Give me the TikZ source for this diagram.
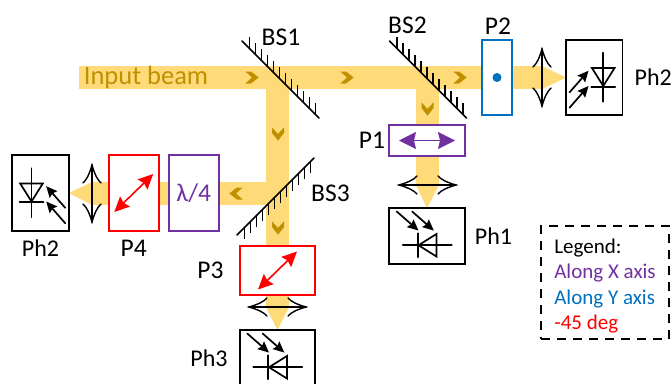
\documentclass[tikz,border=0pt]{standalone}
\usepackage{fontspec}
\setmainfont{Carlito}
\usetikzlibrary{arrows.meta}
\usetikzlibrary{positioning}
\usetikzlibrary{backgrounds}
\definecolor{beamcol}{RGB}{255,218,120}
\definecolor{chevcol}{RGB}{191,144,0}
\definecolor{alongx}{RGB}{112,48,160}
\definecolor{alongy}{RGB}{0,112,192}
\definecolor{minus45}{RGB}{255,0,0}
\tikzset {
  beam/.style = {
    draw = beamcol,
    line width = 23pt
  },
  % cone behind a lens
  taper/.style = {
    fill = beamcol
  },
  optic/.style = {
    line width = 1.7pt,
    line cap = round
  },
  labeltext/.style = {
    font = \fontsize{25.5}{28}\selectfont,
    inner sep = 0
  },
  phtext/.style = {
    labeltext,
    font = \fontsize{24}{28}\selectfont
  }
}
\tikzset {
  box/.style = {
    draw = #1,
    fill = white,
    line width = 1.7pt,
    rectangle,
    inner sep = 0,
    outer sep = 0
  },
  tallpol/.style = {
    box = #1,
    minimum width = 50pt,
    minimum height = 76pt
  },
  widepol/.style = {
    box = #1,
    minimum width = 75.5pt,
    minimum height = 49.5pt
  },
  tallph/.style = {
    box = black,
    minimum width = 56.5pt,
    minimum height = 75.5pt
  },
  wideph/.style = {
    box = black,
    minimum width = 75.5pt,
    minimum height = 56pt
  },
  legendbox/.style = {
    draw = black,
    line width = 1.7pt,
    dash pattern = on 9pt off 7pt,
    minimum width = 128pt,
    minimum height = 113pt,
    align = left,
    inner sep = 0,
    font = \fontsize{21}{25.5}\selectfont
  },
  pics/mirror/.style = {
    code = {
      \draw[optic] (0,0) -- (77,77);
      \foreach \t in {0,...,11} {
        \draw[line width = 1.6pt] ({7.3+6*\t},{7.3+6*\t}) -- ++(0,-11.5);
      }
    }
  },
  pics/lens/.style = {
    code = {
      \draw[optic] (0,-28.5) -- (0,28.5);
      \draw[optic, line width = 1.4pt] (-9,-10.5) .. controls (-5,-14) and (-2.5,-20) .. (0,-28.5)
        .. controls (2.5,-20) and (5,-14) .. (9,-10.5);
      \draw[optic, line width = 1.4pt] (-9,10.5) .. controls (-5,14) and (-2.5,20) .. (0,28.5)
        .. controls (2.5,20) and (5,14) .. (9,10.5);
    }
  },
  pics/photodiode/.style = {
    code = {
      \draw[optic] (9,-24.8) -- (9,24.2);
      \draw[optic] (-2.3,-9.5) -- (20.3,-9.5) -- (9,8.5) -- cycle;
      \draw[optic] (-3,9.2) -- (21,9.2);
      \draw[optic, -{Stealth[length=11pt,width=10pt,inset=1.5pt]}] (-24.7,14.8) -- (-5.7,-6.8);
      \draw[optic, -{Stealth[length=11pt,width=10pt,inset=1.5pt]}] (-24.7,30.2) -- (-5.7,8.5);
    }
  },
  pics/chevron/.style = {
    code = {
      \fill[chevcol] (-6.7,-6) -- (-1,-6) -- (6.7,0) -- (-1,6) -- (-6.7,6) -- (0,0) -- cycle;
    }
  },
  pics/diagarrow/.style = {
    code = {
      \draw[minus45, line width = 1.6pt,
        {Stealth[length=15pt,width=14pt,inset=2pt]}-{Stealth[length=15pt,width=14pt,inset=2pt]}]
        (-19.5,19) -- (19.5,-19);
    }
  }
}

\begin{document}
\begin{tikzpicture}[x = 1pt, y = -1pt]
    \useasboundingbox (0,0) rectangle (672,383);

    \coordinate (start) at (79,77.5);
    \coordinate (BS1c) at (277.5,77.5);
    \coordinate (BS2c) at (427.5,77.5);
    \coordinate (BS3c) at (277.5,193.5);

    \coordinate (lensR) at (542,77.5);
    \coordinate (lensL) at (92,193.5);
    \coordinate (lens1) at (427.5,185);
    \coordinate (lens3) at (277.5,307);

    % boxes
    \node[tallpol = alongy, minimum width = 30pt, minimum height = 75pt] (P2) at (497,77.5) {};
    \node[tallph] (Ph2R) [right=54pt of P2] {};
    \node[widepol = alongx, minimum height = 30.5pt] (P1) at (427,140.5) {};
    \node[wideph] (Ph1) [below=52.5pt of P1] {};
    \node[tallph] (Ph2L) at (40.5,193) {};
    \node[tallpol = minus45] (P4) [right=40pt of Ph2L] {};
    \node[tallpol = alongx, font = \fontsize{25.5}{28}\selectfont, text = alongx] (QWP) [right=10pt of P4] {λ/4};
    \node[widepol = minus45] (P3) at (277.5,270.5) {};
    \node[wideph] (Ph3) [below=35pt of P3] {};

    % beams go behind the boxes
    \begin{pgfonlayer}{background}
      \draw[beam] (start) -- (lensR);
      \draw[beam] (BS1c) -- (lens3);
      \draw[beam] (BS2c) -- (lens1);
      \draw[beam] (BS3c) -- (lensL);
      \fill[taper] ([yshift=11.5pt]lensR) -- ([yshift=-11.5pt]lensR) -- (Ph2R.west) -- cycle;
      \fill[taper] ([yshift=11.5pt]lensL) -- ([yshift=-11.5pt]lensL) -- (Ph2L.east) -- cycle;
      \fill[taper] ([xshift=11.5pt]lens1) -- ([xshift=-11.5pt]lens1) -- (Ph1.north) -- cycle;
      \fill[taper] ([xshift=11.5pt]lens3) -- ([xshift=-11.5pt]lens3) -- (Ph3.north) -- cycle;
    \end{pgfonlayer}

    \pic at (242,41) {mirror};
    \pic at (389.5,41) {mirror};
    \pic[yscale = -1] at (237,235) {mirror};

    \pic at (lensR) {lens};
    \pic at (lensL) {lens};
    \pic[rotate = 90] at (lens1) {lens};
    \pic[rotate = 90] at (lens3) {lens};

    \pic at (Ph2R) {photodiode};
    \pic[xscale = -1] at (Ph2L) {photodiode};
    \pic[rotate = -90] at (Ph1) {photodiode};
    \pic[rotate = -90] at (Ph3) {photodiode};

    \pic at (252,77.5) {chevron};
    \pic at (347,77.5) {chevron};
    \pic at (460,77.5) {chevron};
    \pic[rotate = -90] at (278,134) {chevron};
    \pic[rotate = -90] at (278,228) {chevron};
    \pic[rotate = -90] at (427.5,109) {chevron};
    \pic[rotate = 180] at (236,193.5) {chevron};

    \node[circle, fill = alongy, minimum size = 9pt, inner sep = 0] (dot) at (P2) {};
    \draw[alongx, line width = 1.6pt,
      {Stealth[length=17pt,width=17pt,inset=2pt]}-{Stealth[length=17pt,width=17pt,inset=2pt]}]
      ([xshift=-28pt]P1.center) -- ([xshift=28pt]P1.center);
    \pic at (P4) {diagarrow};
    \pic at (P3) {diagarrow};

    % labels
    \node[labeltext, font = \fontsize{26.5}{28}\selectfont, text = chevcol] (input) at (146,77) {Input beam};
    \node[labeltext] (BS1) at (281,37) {BS1};
    \node[labeltext] (BS2) at (407.5,25) {BS2};
    \node[labeltext] (BS3) at (330.5,193) {BS3};
    \node[labeltext] (labelP2) at (498,26) {P2};
    \node[labeltext] (labelP1) [left=4pt of P1] {P1};
    \node[labeltext] (labelP3) [left=16pt of P3] {P3};
    \node[labeltext] (labelP4) [below=9pt of P4] {P4};
    \node[phtext] (labelPh2L) [below=9pt of Ph2L] {Ph2};
    \node[phtext] (labelPh2R) [right=12pt of Ph2R] {Ph2};
    \node[phtext] (labelPh1) [right=10pt of Ph1] {Ph1};
    \node[phtext] (labelPh3) [left=12pt of Ph3] {Ph3};

    \node[legendbox] (legend) at (605,282.5) {\rule{0pt}{22pt}Legend:\\
      \textcolor{alongx}{Along X axis}\\
      \textcolor{alongy}{Along Y axis}\\
      \textcolor{minus45}{-45 deg}};
\end{tikzpicture}
\end{document}
